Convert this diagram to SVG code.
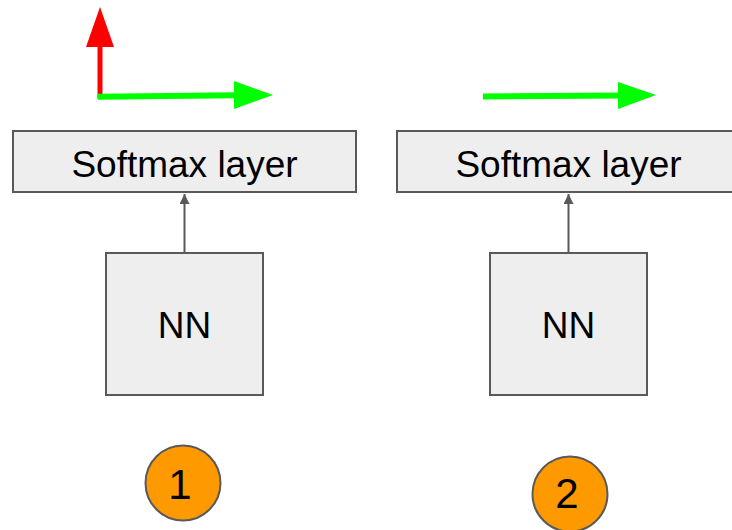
<svg xmlns="http://www.w3.org/2000/svg" width="732" height="530" viewBox="0 0 732 530">
  <style>
    .box { fill: #eeeeee; stroke: #595959; stroke-width: 2; }
    .badge { fill: #ff9900; stroke: #595959; stroke-width: 2; }
    .label { font-family: "Liberation Sans", Arial, sans-serif; fill: #000; text-anchor: middle; }
    .link { stroke: #595959; stroke-width: 2; fill: none; }
  </style>
  <defs>
    <marker id="head" viewBox="0 0 10 10" refX="10" refY="5" markerWidth="5" markerHeight="5" orient="auto" markerUnits="strokeWidth">
      <path d="M0,0 L10,5 L0,10 z" fill="#595959"/>
    </marker>
  </defs>
  <rect width="732" height="530" fill="#ffffff"/>

  <!-- axes above the first softmax layer -->
  <g id="axes1">
    <line x1="100" y1="99" x2="100" y2="46" stroke="#ff0000" stroke-width="5"/>
    <polygon points="100,7 86,47 114,47" fill="#ff0000"/>
    <line x1="98" y1="96.8" x2="236" y2="95.3" stroke="#00ff00" stroke-width="6"/>
    <polygon points="273,95 234,81 234,109" fill="#00ff00"/>
  </g>

  <!-- axis above the second softmax layer -->
  <g id="axes2">
    <line x1="483" y1="96.5" x2="620" y2="95.5" stroke="#00ff00" stroke-width="6"/>
    <polygon points="656,95 618,82 618,109" fill="#00ff00"/>
  </g>

  <g id="softmax1">
    <rect class="box" x="13" y="131" width="343" height="61"/>
    <text class="label" x="184.5" y="176.5" font-size="37">Softmax layer</text>
  </g>
  <g id="softmax2">
    <rect class="box" x="397" y="131" width="343" height="61"/>
    <text class="label" x="568.5" y="176.5" font-size="37">Softmax layer</text>
  </g>

  <g id="nn1">
    <rect class="box" x="106" y="253" width="157" height="142"/>
    <text class="label" x="184.5" y="338" font-size="37">NN</text>
  </g>
  <g id="nn2">
    <rect class="box" x="490" y="253" width="157" height="142"/>
    <text class="label" x="568.5" y="338" font-size="37">NN</text>
  </g>

  <g id="badge1">
    <circle class="badge" cx="183" cy="483" r="37.5"/>
    <text class="label" x="180" y="499" font-size="42">1</text>
  </g>
  <g id="badge2">
    <circle class="badge" cx="570" cy="494" r="37.5"/>
    <text class="label" x="567" y="508" font-size="42">2</text>
  </g>

  <g id="connectors">
    <line class="link" x1="184.5" y1="253" x2="184.5" y2="194" marker-end="url(#head)"/>
    <line class="link" x1="568.5" y1="253" x2="568.5" y2="194" marker-end="url(#head)"/>
  </g>
</svg>
